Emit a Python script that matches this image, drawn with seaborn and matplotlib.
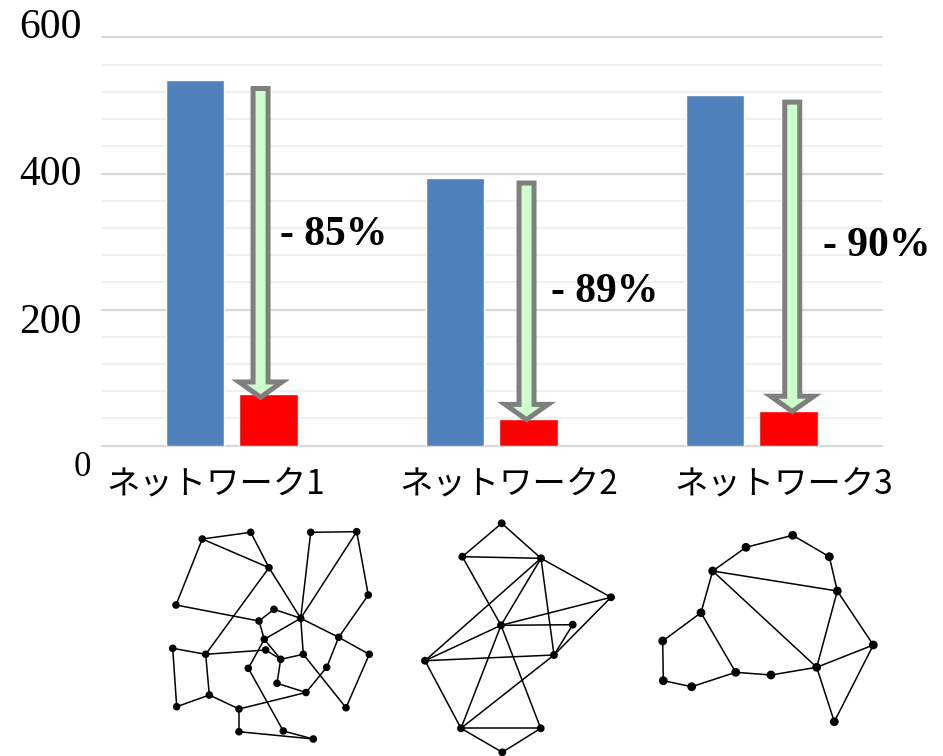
import numpy as np
import pandas as pd
import matplotlib
matplotlib.use("Agg")
import matplotlib.pyplot as plt
import seaborn as sns

# ---------------- data ----------------
categories = ["ネットワーク1", "ネットワーク2", "ネットワーク3"]
series_names = ["before", "after"]
before_values = [538, 393, 515]
after_values = [76, 39, 51]
reduction_labels = ["- 85%", "- 89%", "- 90%"]
ytick_values = [0, 200, 400, 600]
ytick_labels = ["0", "200", "400", "600"]

# network drawings (node positions, edges)
net1_nodes = [(202.3, 539), (250.7, 532.3), (269, 567.7), (310.7, 532.3), (356.7, 531.7),
              (368.3, 595), (176, 605), (274, 609.3), (300.7, 618.3), (259, 621),
              (264.3, 639.3), (338.7, 637.3), (172.7, 648.3), (205.7, 654.3), (265.7, 650),
              (280.7, 659.3), (303.3, 654.3), (369.3, 654.3), (248.3, 668.3), (326.7, 667.3),
              (277, 683.3), (306, 692.5), (209.3, 695), (176.7, 706.7), (346, 707.7),
              (239, 709), (239, 731.7), (283.3, 731), (313.3, 739)]
net1_edges = [(0, 1), (1, 2), (0, 2), (0, 6), (6, 9), (2, 13), (2, 8), (3, 4), (3, 8), (4, 8),
              (4, 5), (5, 11), (7, 8), (7, 9), (9, 10), (10, 8), (10, 15), (10, 18), (13, 14),
              (14, 15), (8, 11), (11, 17), (8, 16), (15, 16), (15, 20), (20, 21), (16, 24),
              (17, 24), (11, 19), (19, 21), (12, 13), (12, 23), (13, 22), (23, 22), (22, 25),
              (25, 21), (25, 26), (26, 28), (27, 28), (18, 27)]
net2_nodes = [(501.7, 523.3), (462.3, 556.7), (541, 558.3), (611, 597.3), (501, 625.3),
              (572.7, 624.7), (554, 655), (425, 660.7), (461, 728.3), (540.7, 728.3),
              (502.3, 752.3)]
net2_edges = [(0, 1), (0, 2), (1, 2), (1, 4), (4, 9), (2, 3), (2, 7), (2, 4), (2, 6), (3, 4),
              (3, 6), (4, 5), (5, 6), (7, 6), (7, 4), (7, 8), (4, 8), (8, 6), (8, 9), (8, 10),
              (9, 10)]
net3_nodes = [(746, 547.3), (792.7, 535.3), (829.3, 556.7), (712.7, 571), (837.3, 591),
              (701, 612.7), (662.7, 641), (873.3, 645), (816.7, 667.3), (735.7, 672.3),
              (771, 675), (663.3, 680.7), (691.7, 686.7), (834.3, 721.7)]
net3_edges = [(3, 0), (0, 1), (1, 2), (2, 4), (3, 4), (3, 8), (3, 5), (5, 6), (6, 11),
              (11, 12), (12, 9), (5, 9), (9, 10), (10, 8), (8, 4), (4, 7), (8, 7), (8, 13),
              (7, 13)]

df = pd.DataFrame({
    "network": categories * 2,
    "series": [series_names[0]] * 3 + [series_names[1]] * 3,
    "value": before_values + after_values,
})

# ---------------- style ----------------
sns.set_style("white")
plt.rcParams["font.family"] = ["Noto Sans CJK JP", "DejaVu Sans"]

W, H = 943, 756
fig = plt.figure(figsize=(W / 100, H / 100), dpi=100)
left, right, bottom, top = 101.7, 881.7, 445.5, 37.5
ax = fig.add_axes([left / W, 1 - bottom / H, (right - left) / W, (bottom - top) / H])

sns.barplot(data=df, x="network", y="value", hue="series",
            palette=["#4F81BD", "#FF0000"], saturation=1, width=0.567, gap=0.2085,
            legend=False, ax=ax, zorder=3)

ax.set_ylim(0, 600)
ax.set_xlim(-0.5, 2.5)
ax.set_yticks(ytick_values)
minor = [v for v in range(0, 601, 40) if v % 200 != 0]
ax.set_yticks(minor, minor=True)
ax.grid(which="major", axis="y", color="#D9D9D9", lw=1.6, zorder=0)
ax.grid(which="minor", axis="y", color="#F0F0F0", lw=1.4, zorder=0)
ax.grid(which="major", axis="x", visible=False)
for gl in ax.get_ygridlines():
    gl.set_clip_on(False)
ax.set_axisbelow(True)
ax.tick_params(axis="both", which="both", length=0, labelleft=False, labelbottom=False)
for s in ax.spines.values():
    s.set_visible(False)
ax.set_xlabel("")
ax.set_ylabel("")

# y tick labels (serif), placed like the reference
ytick_offsets = [(-11, -31), (-20, -23.8), (-20, -11.5), (-20, -0.8)]
ytick_sizes = [25, 30, 30, 30]
for v, lab, (dx, dy), fs in zip(ytick_values, ytick_labels, ytick_offsets, ytick_sizes):
    ax.annotate(lab, xy=(0, v), xycoords=("axes fraction", "data"),
                xytext=(dx, dy), textcoords="offset pixels",
                ha="right", va="baseline", fontsize=fs,
                family="Liberation Serif", color="black", annotation_clip=False)

# category labels
cat_offsets = [-16, 16.7, 31.7]
for i, (lab, dx) in enumerate(zip(categories, cat_offsets)):
    ax.annotate(lab, xy=(i, 0), xycoords=("data", "axes fraction"),
                xytext=(dx, -39), textcoords="offset pixels",
                ha="center", va="center", fontsize=24,
                family=["Noto Sans CJK JP", "DejaVu Sans"], color="black",
                annotation_clip=False)

# reduction arrows
arrow_x = [0.111, 1.134, 2.156]
arrow_start = [525, 386, 505]
arrow_end = [71, 38, 50]
for x, y0, y1 in zip(arrow_x, arrow_start, arrow_end):
    ax.annotate("", xy=(x, y1), xytext=(x, y0),
                arrowprops=dict(arrowstyle="simple,head_length=11,head_width=31,tail_width=10.8",
                                mutation_scale=1, fc="#CCFFCC", ec="#7F7F7F", lw=3.6,
                                shrinkA=0, shrinkB=0, joinstyle="miter"),
                zorder=5)

# reduction labels
label_x = [0.186, 1.2276, 2.2726]
label_y = [295, 211.5, 278.7]
for x, y, lab in zip(label_x, label_y, reduction_labels):
    ax.text(x, y, lab, ha="left", va="baseline", fontsize=30, fontweight="bold",
            family="Liberation Serif", color="black", zorder=6)

# ---------------- network drawings ----------------
gax = fig.add_axes([0, 0, 1, 1], facecolor="none")
for nodes, edges, ms in [(net1_nodes, net1_edges, 30), (net2_nodes, net2_edges, 32),
                         (net3_nodes, net3_edges, 40)]:
    for a, b in edges:
        gax.plot([nodes[a][0], nodes[b][0]], [nodes[a][1], nodes[b][1]],
                 color="black", lw=1.1, zorder=1)
    nd = pd.DataFrame(nodes, columns=["x", "y"])
    sns.scatterplot(data=nd, x="x", y="y", s=ms, color="black", edgecolor="none",
                    ax=gax, zorder=2, legend=False)
gax.set_xlim(0, W)
gax.set_ylim(H, 0)
gax.axis("off")

fig.savefig("out.png", dpi=100, facecolor="white")
